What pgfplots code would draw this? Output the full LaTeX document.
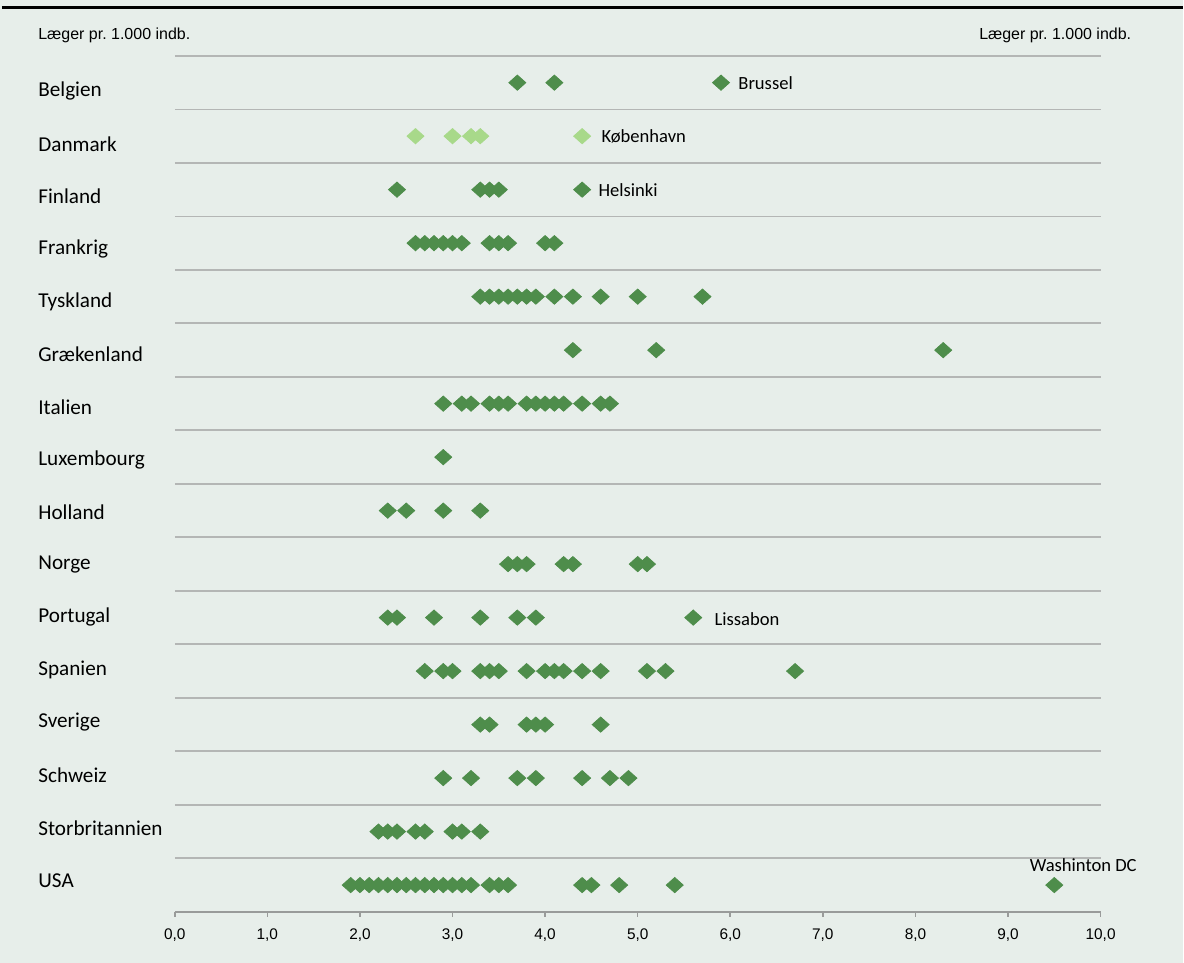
\documentclass[border=0pt]{standalone}
\usepackage{pgfplots}
\pgfplotsset{compat=1.18}
\usepackage{fontspec}
\setmainfont{Liberation Sans}
\newfontfamily\carl{Carlito}
\frenchspacing
\definecolor{bg}{HTML}{E7EEEA}
\definecolor{dg}{HTML}{4E8D4B}
\definecolor{lg}{HTML}{A8D98A}
\definecolor{gl}{HTML}{B4B6B5}
\begin{document}
\begin{tikzpicture}[x=1pt,y=1pt]
\fill[bg] (0,0) rectangle (592,482);
\draw[black, line width=1.5pt] (1,478) -- (592,478);
\node[anchor=west, inner sep=0pt, font=\fontsize{8}{9}\selectfont] at (19,464.5) {Læger pr.\ 1.000 indb.};
\node[anchor=east, inner sep=0pt, font=\fontsize{8}{9}\selectfont] at (566.5,464.5) {Læger pr.\ 1.000 indb.};
\begin{axis}[
  at={(87.5pt,25.5pt)}, anchor=south west,
  scale only axis, width=463.5pt, height=428.5pt,
  xmin=0, xmax=10, ymin=0.5, ymax=16.5,
  axis x line*=bottom, axis y line*=left,
  y axis line style={draw=none},
  x axis line style={draw=gl!85!black, line width=1pt},
  xtick={0,1,...,10},
  tick align=outside, major tick length=2.5pt,
  xtick style={draw=gl!85!black, line width=0.8pt},
  ytick style={draw=none},
  /pgf/number format/.cd, fixed, fixed zerofill, precision=1, use comma, assume math mode=true,
  /pgfplots/.cd,
  tick label style={font=\fontsize{7.7}{9}\selectfont},
  xticklabel style={yshift=-2.6pt},
  ytick={1.134,2.117,3.101,4.084,5.067,6.051,7.034,8.017,9.001,9.984,10.967,11.951,12.934,13.917,14.901,15.884},
  yticklabels={USA,Storbritannien,Schweiz,Sverige,Spanien,Portugal,Norge,Holland,Luxembourg,Italien,Grækenland,Tyskland,Frankrig,Finland,Danmark,Belgien},
  yticklabel style={anchor=west, xshift=-66pt, yshift=-1.2pt, inner sep=0pt, font=\carl\fontsize{10.6}{12}\selectfont},
  extra y ticks={1.5,2.5,...,16.5},
  extra y tick labels={},
  extra y tick style={grid=major, major grid style={draw=gl, line width=0.9pt}, tick style={draw=none}},
  clip=false,
]
% dark green points
\addplot[only marks, mark=diamond*, mark size=3.8pt, color=dg, mark options={xscale=1.49, draw=none, fill=dg}] coordinates {
 (3.7,16) (4.1,16) (5.9,16)
 (2.4,14) (3.3,14) (3.4,14) (3.5,14) (4.4,14)
 (2.6,13) (2.7,13) (2.8,13) (2.9,13) (3.0,13) (3.1,13) (3.4,13) (3.5,13) (3.6,13) (4.0,13) (4.1,13)
 (3.3,12) (3.4,12) (3.5,12) (3.6,12) (3.7,12) (3.8,12) (3.9,12) (4.1,12) (4.3,12) (4.6,12) (5.0,12) (5.7,12)
 (4.3,11) (5.2,11) (8.3,11)
 (2.9,10) (3.1,10) (3.2,10) (3.4,10) (3.5,10) (3.6,10) (3.8,10) (3.9,10) (4.0,10) (4.1,10) (4.2,10) (4.4,10) (4.6,10) (4.7,10)
 (2.9,9)
 (2.3,8) (2.5,8) (2.9,8) (3.3,8)
 (3.6,7) (3.7,7) (3.8,7) (4.2,7) (4.3,7) (5.0,7) (5.1,7)
 (2.3,6) (2.4,6) (2.8,6) (3.3,6) (3.7,6) (3.9,6) (5.6,6)
 (2.7,5) (2.9,5) (3.0,5) (3.3,5) (3.4,5) (3.5,5) (3.8,5) (4.0,5) (4.1,5) (4.2,5) (4.4,5) (4.6,5) (5.1,5) (5.3,5) (6.7,5)
 (3.3,4) (3.4,4) (3.8,4) (3.9,4) (4.0,4) (4.6,4)
 (2.9,3) (3.2,3) (3.7,3) (3.9,3) (4.4,3) (4.7,3) (4.9,3)
 (2.2,2) (2.3,2) (2.4,2) (2.6,2) (2.7,2) (3.0,2) (3.1,2) (3.3,2)
 (1.9,1) (2.0,1) (2.1,1) (2.2,1) (2.3,1) (2.4,1) (2.5,1) (2.6,1) (2.7,1) (2.8,1) (2.9,1) (3.0,1) (3.1,1) (3.2,1) (3.4,1) (3.5,1) (3.6,1) (4.4,1) (4.5,1) (4.8,1) (5.4,1) (9.5,1)
};
% Danmark light green
\addplot[only marks, mark=diamond*, mark size=3.8pt, color=lg, mark options={xscale=1.49, draw=none, fill=lg}] coordinates {
 (2.6,15) (3.0,15) (3.2,15) (3.3,15) (4.4,15)
};
\begin{scope}[every node/.style={font=\carl\fontsize{9.3}{11}\selectfont, inner sep=0pt}]
\node[anchor=west] at (axis cs:5.9,16) [xshift=8.5pt] {Brussel};
\node[anchor=west] at (axis cs:4.4,15) [xshift=9.5pt] {København};
\node[anchor=west] at (axis cs:4.4,14) [xshift=8pt] {Helsinki};
\node[anchor=west] at (axis cs:5.6,6) [xshift=10.5pt, yshift=-1pt] {Lissabon};
\node[anchor=center] at (axis cs:9.5,1) [xshift=14.5pt, yshift=10pt] {Washinton DC};
\end{scope}
\end{axis}
\end{tikzpicture}
\end{document}
